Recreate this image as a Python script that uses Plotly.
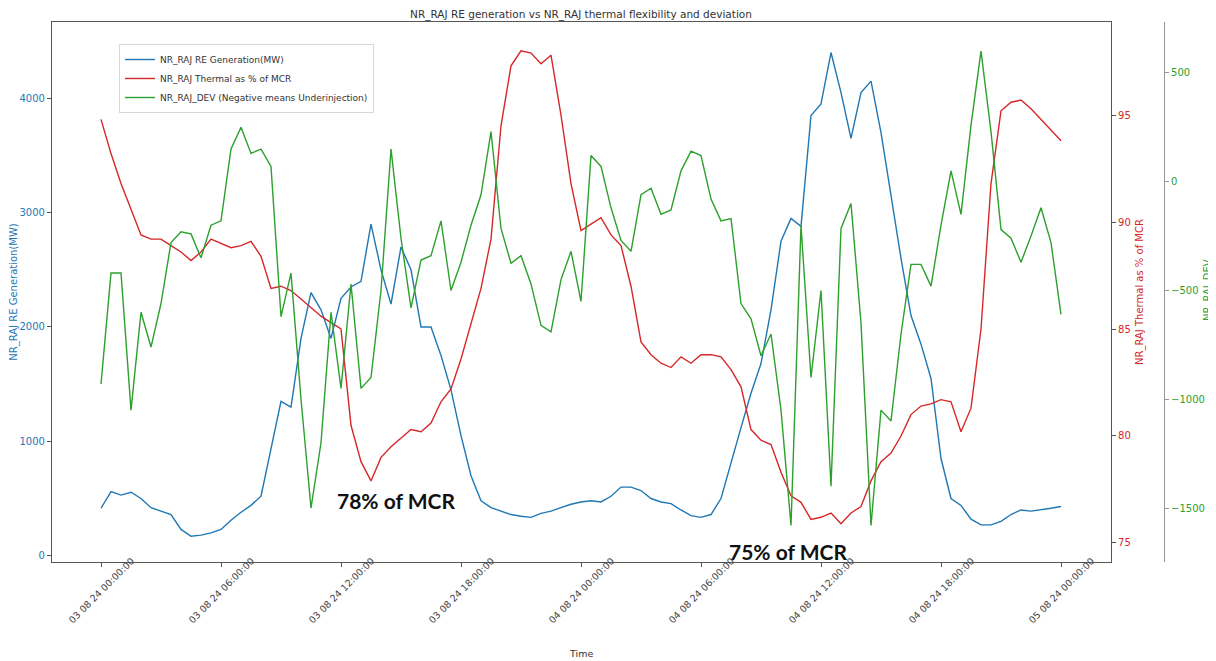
import pandas as pd
import plotly.graph_objects as go

# ---------------- data (30-min samples, 03-08-2024 00:00 .. 05-08-2024 00:00) -------------
start_time = "2024-08-03 00:00"
step = "30min"

re_generation_mw = [
    415, 560, 530, 555, 500, 420, 390, 360, 230, 170,
    180, 200, 230, 310, 380, 440, 520, 950, 1350, 1300,
    1900, 2300, 2150, 1900, 2250, 2350, 2400, 2900, 2500, 2200,
    2700, 2500, 2000, 2000, 1750, 1450, 1050, 700, 480, 420,
    390, 360, 345, 335, 370, 390, 420, 450, 470, 480,
    470, 520, 600, 600, 570, 500, 470, 455, 400, 350,
    335, 360, 500, 820, 1120, 1420, 1680, 2150, 2750, 2950,
    2880, 3850, 3950, 4400, 4050, 3650, 4050, 4150, 3700, 3150,
    2600, 2100, 1850, 1550, 850, 500, 440, 320, 270, 270,
    300, 360, 400, 390, 400, 415, 430,
]

thermal_pct_mcr = [
    94.8, 93.2, 91.8, 90.6, 89.4, 89.2, 89.2, 88.9, 88.6, 88.2,
    88.6, 89.2, 89.0, 88.8, 88.9, 89.1, 88.4, 86.9, 87.0, 86.8,
    86.4, 86.0, 85.6, 85.3, 85.0, 80.5, 78.8, 77.9, 79.0, 79.5,
    79.9, 80.3, 80.2, 80.6, 81.6, 82.2, 83.6, 85.2, 86.9, 89.2,
    94.5, 97.3, 98.0, 97.9, 97.4, 97.8, 95.0, 91.8, 89.6, 89.9,
    90.2, 89.4, 88.9, 87.0, 84.4, 83.8, 83.4, 83.2, 83.7, 83.4,
    83.8, 83.8, 83.7, 83.1, 82.3, 80.3, 79.8, 79.6, 78.3, 77.2,
    76.9, 76.1, 76.2, 76.4, 75.9, 76.4, 76.7, 77.9, 78.8, 79.2,
    80.0, 81.0, 81.4, 81.5, 81.7, 81.6, 80.2, 81.3, 85.0, 91.8,
    95.2, 95.6, 95.7, 95.3, 94.8, 94.3, 93.8,
]

deviation_mw = [
    -930, -420, -420, -1050, -600, -760, -560, -280, -230, -240,
    -350, -200, -180, 150, 250, 130, 150, 70, -620, -420,
    -1000, -1500, -1200, -600, -950, -470, -950, -900, -500, 150,
    -260, -580, -360, -340, -180, -500, -370, -200, -60, 230,
    -215, -375, -340, -470, -660, -690, -450, -320, -550, 120,
    70, -120, -270, -320, -60, -30, -150, -130, 50, 140,
    120, -80, -180, -170, -560, -630, -800, -700, -1050, -1580,
    -200, -900, -500, -1400, -215, -100, -650, -1580, -1050, -1100,
    -700, -380, -380, -480, -200, 50, -150, 260, 600, 230,
    -220, -260, -370, -250, -120, -280, -610,
]

x_tick_labels = [
    "03 08 24 00:00:00", "03 08 24 06:00:00", "03 08 24 12:00:00",
    "03 08 24 18:00:00", "04 08 24 00:00:00", "04 08 24 06:00:00",
    "04 08 24 12:00:00", "04 08 24 18:00:00", "05 08 24 00:00:00",
]
re_ticks = [0, 1000, 2000, 3000, 4000]
thermal_ticks = [75, 80, 85, 90, 95]
dev_ticks = [-1500, -1000, -500, 0, 500]

callout_texts = ["78% of MCR", "75% of MCR"]
callout_times = ["2024-08-03 14:45", "2024-08-04 10:20"]

series_names = [
    "NR_RAJ RE Generation(MW)",
    "NR_RAJ Thermal as % of MCR",
    "NR_RAJ_DEV (Negative means Underinjection)",
]

# ---------------- build -------------------------------------------------------------------
times = pd.date_range(start_time, periods=len(re_generation_mw), freq=step)
tick_times = [pd.to_datetime(t, format="%d %m %y %H:%M:%S") for t in x_tick_labels]

BLUE, RED, GREEN = "#1f77b4", "#d62728", "#2ca02c"
FONT = "DejaVu Sans"

# page body has an 8 px margin -> figure coordinates are screen coordinates minus 8
OFF = 8
FIG_W, FIG_H = 1216 - OFF, 661 - OFF
L, T, B = 52 - OFF, 22 - OFF, 562 - OFF          # plot box edges
R_PLOT, R_AX3 = 1111 - OFF, 1164 - OFF
paper_w = 1128.0
plot_h = B - T
dom_right = (R_PLOT - L) / paper_w
y3_pos = (R_AX3 - L) / paper_w


def px_x(sx):
    return (sx - OFF - L) / paper_w


def px_y(sy):
    return (B - (sy - OFF)) / plot_h


fig = go.Figure()
fig.add_trace(go.Scatter(x=times, y=re_generation_mw, name=series_names[0],
                         mode="lines", line=dict(color=BLUE, width=1.4), yaxis="y"))
fig.add_trace(go.Scatter(x=times, y=thermal_pct_mcr, name=series_names[1],
                         mode="lines", line=dict(color=RED, width=1.4), yaxis="y2"))
fig.add_trace(go.Scatter(x=times, y=deviation_mw, name=series_names[2],
                         mode="lines", line=dict(color=GREEN, width=1.4), yaxis="y3"))

x0 = pd.Timestamp(start_time) - pd.Timedelta(hours=2.45)
x1 = pd.Timestamp(start_time) + pd.Timedelta(hours=50.5)

fig.update_layout(
    width=FIG_W, height=FIG_H,
    margin=dict(l=L, r=FIG_W - L - int(paper_w), t=T, b=FIG_H - B, autoexpand=False),
    paper_bgcolor="white", plot_bgcolor="white",
    font=dict(family=FONT, size=10, color="#333"),
    title=dict(text="NR_RAJ RE generation vs NR_RAJ thermal flexibility and deviation",
               x=px_x(581), xref="paper", xanchor="center",
               y=1 - (14 - OFF) / FIG_H, yanchor="middle",
               font=dict(family=FONT, size=10.5, color="#333")),
    showlegend=True,
    legend=dict(x=px_x(119), y=px_y(44), xanchor="left", yanchor="top",
                bgcolor="rgba(255,255,255,0.9)", bordercolor="#d8d8d8", borderwidth=1,
                font=dict(family=FONT, size=9, color="#333"), tracegroupgap=0,
                itemwidth=30),
    xaxis=dict(domain=[0, dom_right], range=[x0, x1], showgrid=False, zeroline=False,
               showline=True, linecolor="#555", linewidth=1.2, mirror=True,
               ticks="outside", ticklen=4, tickcolor="#555", automargin=False,
               tickvals=tick_times, showticklabels=False),
    yaxis=dict(range=[-55, 4667], tickvals=re_ticks, showgrid=False, zeroline=False,
               showline=True, linecolor="#555", linewidth=1.2, automargin=False,
               ticks="outside", ticklen=4, tickcolor="#555",
               tickfont=dict(color=BLUE, size=10),
               title=dict(text="NR_RAJ RE Generation(MW)", font=dict(color=BLUE, size=10),
                          standoff=8)),
    yaxis2=dict(range=[74.11, 99.35], tickvals=thermal_ticks, overlaying="y", side="right",
                anchor="x", showgrid=False, zeroline=False, automargin=False,
                showline=True, linecolor="#555", linewidth=1.2,
                ticks="outside", ticklen=4, tickcolor="#555",
                tickfont=dict(color=RED, size=10),
                title=dict(text="NR_RAJ Thermal as % of MCR", font=dict(color=RED, size=10),
                           standoff=6)),
    yaxis3=dict(range=[-1748, 734], tickvals=dev_ticks, overlaying="y", side="right",
                anchor="free", position=y3_pos, showgrid=False, zeroline=False,
                showline=True, linecolor="#999", linewidth=1.2, automargin=False,
                ticks="outside", ticklen=4, tickcolor="#999",
                tickfont=dict(color=GREEN, size=10)),
)

# third-axis title placed explicitly so it stays inside the window
fig.add_annotation(x=px_x(1208), xref="paper", y=px_y(290), yref="paper",
                   text="NR_RAJ_DEV", textangle=-90, showarrow=False,
                   xanchor="center", yanchor="middle",
                   font=dict(family=FONT, size=10, color=GREEN))

# rotated x tick labels centred on ticks (matplotlib style)
for t, lab in zip(tick_times, x_tick_labels):
    fig.add_annotation(x=t, xref="x", y=px_y(590), yref="paper",
                       text=lab, textangle=-45, showarrow=False,
                       xanchor="center", yanchor="middle",
                       font=dict(family=FONT, size=9.5, color="#444"))

fig.add_annotation(x=px_x(581), xref="paper", y=px_y(653), yref="paper",
                   text="Time", showarrow=False, xanchor="center", yanchor="middle",
                   font=dict(family=FONT, size=9.5, color="#333"))

callout_y = [px_y(500), px_y(551)]
for txt, t, yy in zip(callout_texts, callout_times, callout_y):
    fig.add_annotation(x=pd.Timestamp(t), xref="x", y=yy, yref="paper",
                       text="<b>" + txt + "</b>", showarrow=False,
                       xanchor="center", yanchor="middle",
                       font=dict(family="Lato", size=21, color="#111"))

fig.write_html("out.html")
